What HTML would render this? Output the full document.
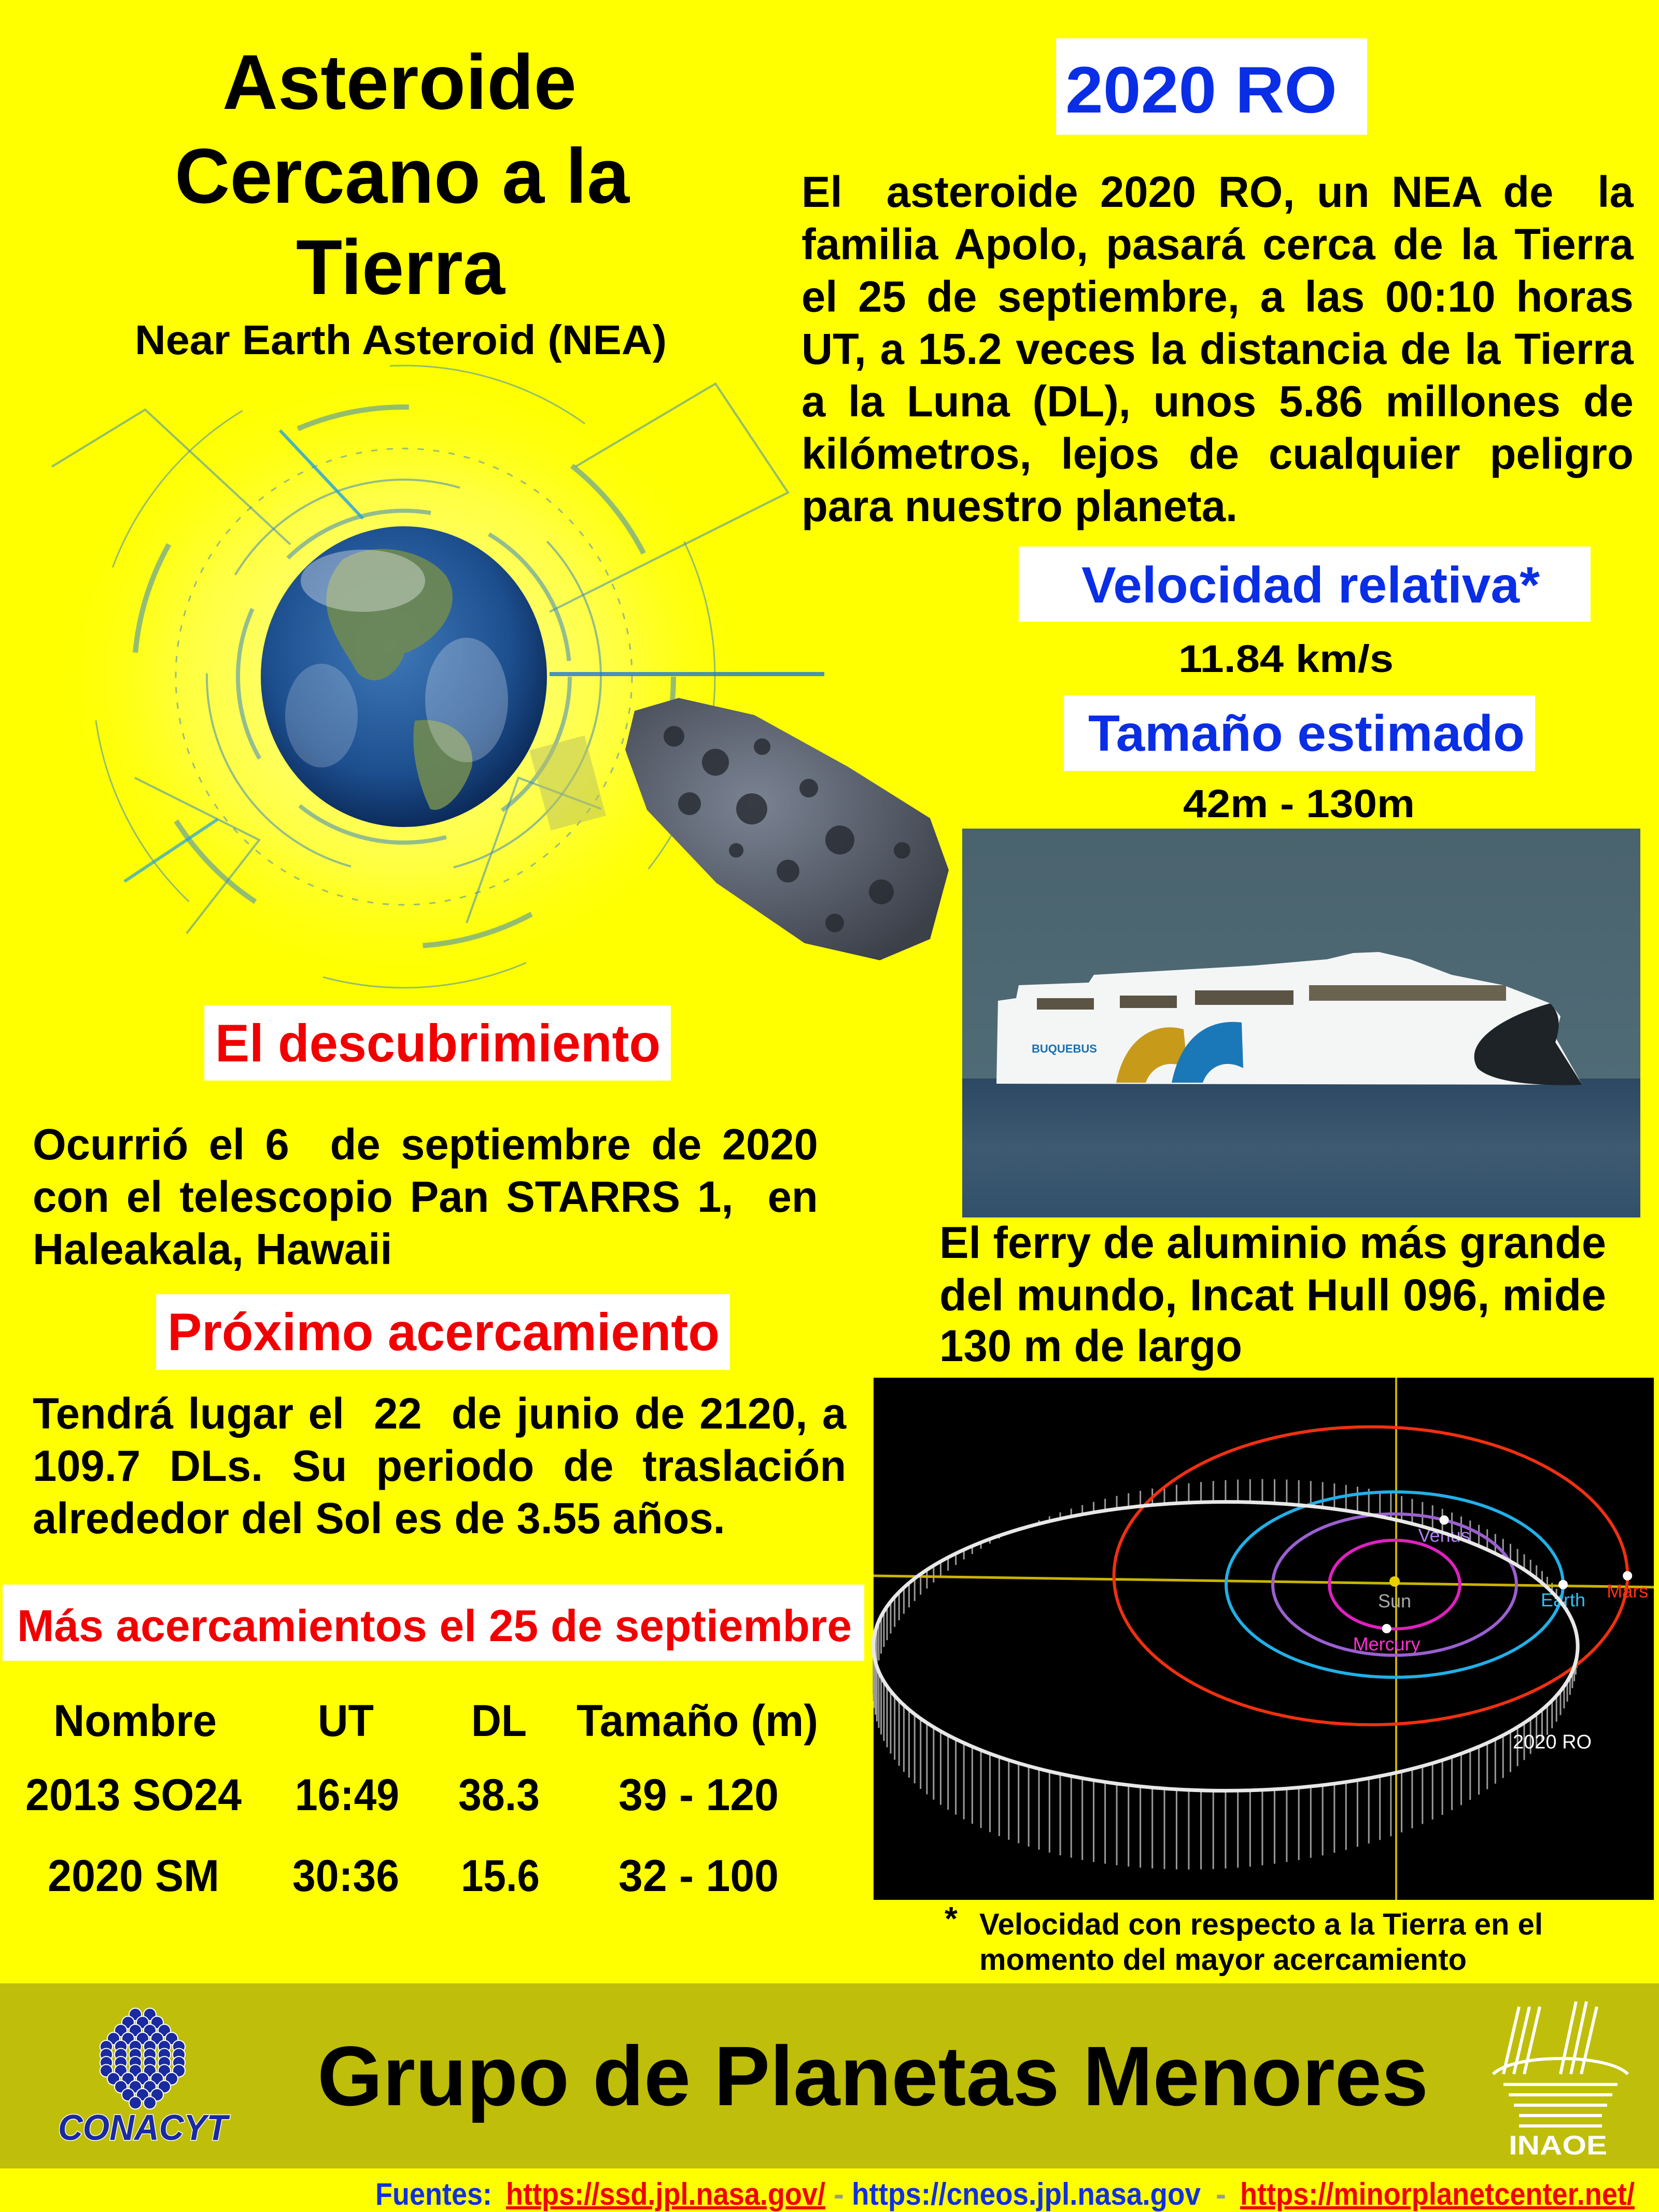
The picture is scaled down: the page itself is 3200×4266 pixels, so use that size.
<!DOCTYPE html>
<html><head><meta charset="utf-8"><title>Asteroide 2020 RO</title>
<style>
html,body{margin:0;padding:0;background:#ffff00;}
#page{position:relative;width:3200px;height:4266px;overflow:hidden;background:#ffff00;font-family:"Liberation Sans",Arial,sans-serif;font-weight:bold;}
svg{position:absolute;left:0;top:0;}
.para{position:absolute;font-size:84px;line-height:101px;color:#000;transform-origin:0 0;transform:scaleX(0.99);}
.para div{height:101px;white-space:nowrap;text-align:justify;text-align-last:justify;}
.para div.last{text-align-last:left;}
</style></head>
<body>
<div id="page">
<svg id="art" width="3200" height="4266" viewBox="0 0 3200 4266">
  <defs>
    <radialGradient id="glow" cx="50%" cy="50%" r="50%">
      <stop offset="0" stop-color="#ffffc8" stop-opacity="0.9"/>
      <stop offset="0.6" stop-color="#ffff80" stop-opacity="0.5"/>
      <stop offset="1" stop-color="#ffff00" stop-opacity="0"/>
    </radialGradient>
    <radialGradient id="earthG" cx="45%" cy="40%" r="60%">
      <stop offset="0" stop-color="#3f79b8"/>
      <stop offset="0.7" stop-color="#1d4f8f"/>
      <stop offset="1" stop-color="#0c2c5c"/>
    </radialGradient>
    <radialGradient id="rockG" cx="40%" cy="40%" r="70%">
      <stop offset="0" stop-color="#7b8393"/>
      <stop offset="1" stop-color="#3b4049"/>
    </radialGradient>
    <linearGradient id="skyG" x1="0" y1="0" x2="0" y2="1">
      <stop offset="0" stop-color="#4a636e"/>
      <stop offset="1" stop-color="#4f6b76"/>
    </linearGradient>
    <linearGradient id="seaG" x1="0" y1="0" x2="0" y2="1">
      <stop offset="0" stop-color="#2c4862"/>
      <stop offset="0.5" stop-color="#3e5a72"/>
      <stop offset="1" stop-color="#33506a"/>
    </linearGradient>
  </defs>

  <g>
    <ellipse cx="779" cy="1305" rx="700" ry="620" fill="url(#glow)"/>
    <g fill="none" stroke="#3c86c0" stroke-opacity="0.55">
      <circle cx="779" cy="1305" r="320" stroke-width="8" stroke-dasharray="300 120"/>
      <circle cx="779" cy="1305" r="380" stroke-width="4" stroke-dasharray="500 200"/>
      <circle cx="779" cy="1305" r="440" stroke-width="3" stroke-dasharray="12 18"/>
      <circle cx="779" cy="1305" r="520" stroke-width="10" stroke-dasharray="220 340"/>
      <circle cx="779" cy="1305" r="600" stroke-width="3" stroke-dasharray="400 300"/>
      <path d="M100 900 L280 790 L560 1050" stroke-width="4"/>
      <path d="M1110 900 L1380 740 L1520 950 L1060 1180" stroke-width="4"/>
      <path d="M1060 1300 L1590 1300" stroke="#1e78d0" stroke-width="8" stroke-opacity="0.8"/>
      <path d="M260 1500 L500 1620 L360 1800" stroke-width="4"/>
      <path d="M900 1780 L1000 1500 L1160 1560" stroke-width="4"/>
      <path d="M540 830 L700 1000" stroke="#20a0e0" stroke-width="6" stroke-opacity="0.8"/>
      <path d="M240 1700 L420 1580" stroke="#20a0e0" stroke-width="6" stroke-opacity="0.7"/>
    </g>
    <rect x="1040" y="1430" width="110" height="160" fill="#b8c060" fill-opacity="0.5" transform="rotate(-15 1095 1510)"/>
    <ellipse cx="779" cy="1305" rx="276" ry="290" fill="url(#earthG)"/>
    <path d="M660 1080 C720 1040 820 1060 860 1110 C900 1170 840 1240 780 1260 C760 1320 700 1330 680 1280 C640 1220 600 1150 660 1080 Z" fill="#6f8a52" opacity="0.9"/>
    <path d="M800 1390 C860 1380 920 1420 910 1480 C890 1540 850 1570 830 1560 C810 1520 790 1450 800 1390 Z" fill="#6f8a52" opacity="0.9"/>
    <ellipse cx="700" cy="1120" rx="120" ry="60" fill="#fff" opacity="0.35"/>
    <ellipse cx="900" cy="1350" rx="80" ry="120" fill="#fff" opacity="0.25"/>
    <ellipse cx="620" cy="1380" rx="70" ry="100" fill="#fff" opacity="0.2"/>
  </g>

  <g>
    <path d="M1224 1371 L1309 1346 L1455 1379 L1636 1479 L1794 1578 L1830 1678 L1794 1811 L1697 1852 L1552 1819 L1382 1703 L1248 1562 L1206 1446 Z" fill="url(#rockG)"/>
    <g fill="#262a31" opacity="0.8">
      <circle cx="1300" cy="1420" r="20"/><circle cx="1380" cy="1470" r="26"/><circle cx="1470" cy="1440" r="16"/>
      <circle cx="1330" cy="1550" r="22"/><circle cx="1450" cy="1560" r="30"/><circle cx="1560" cy="1520" r="18"/>
      <circle cx="1620" cy="1620" r="28"/><circle cx="1520" cy="1680" r="22"/><circle cx="1700" cy="1720" r="24"/>
      <circle cx="1610" cy="1780" r="18"/><circle cx="1420" cy="1640" r="14"/><circle cx="1740" cy="1640" r="16"/>
    </g>
  </g>

  <g>
    <rect x="1856" y="1598" width="1308" height="482" fill="url(#skyG)"/>
    <rect x="1856" y="2080" width="1308" height="268" fill="url(#seaG)"/>
    <path d="M1922 2090 L1925 1930 L1960 1925 L1965 1900 L2100 1895 L2110 1880 L2420 1862 L2560 1850 L2610 1838 L2660 1836 L2720 1850 L2800 1880 L2900 1900 L2990 1935 L3010 1960 L3000 2000 L3052 2092 Z" fill="#f4f6f6"/>
    <path d="M2990 1935 C2900 1960 2820 2010 2850 2060 C2880 2090 2980 2095 3052 2092 L3000 2010 C3010 1980 3010 1955 2990 1935 Z" fill="#1d2327"/>
    <rect x="2000" y="1925" width="110" height="22" fill="#5b5344"/>
    <rect x="2160" y="1920" width="110" height="24" fill="#5b5344"/>
    <rect x="2305" y="1910" width="190" height="28" fill="#5b5344"/>
    <rect x="2525" y="1900" width="380" height="30" fill="#6a6350"/>
    <path d="M2153 2088 C2170 2000 2230 1970 2283 1985 L2290 2060 C2250 2040 2220 2060 2210 2088 Z" fill="#c89a1a"/>
    <path d="M2260 2088 C2280 1990 2340 1965 2395 1972 L2398 2060 C2360 2040 2330 2060 2320 2088 Z" fill="#1a78b8"/>
    <text x="1990" y="2030" font-size="22" fill="#1a6fb0">BUQUEBUS</text>
  </g>

  <g id="orbit">
    <rect x="1685" y="2657" width="1505" height="1007" fill="#000"/>
  </g>

  <rect x="0" y="3825" width="3200" height="357" fill="#bfbe0a"/>
  <g id="conacyt"></g>
  <text x="112" y="4127" font-size="70" font-style="italic" fill="#1a2aa0" stroke="#fff" stroke-width="3" paint-order="stroke" textLength="327" lengthAdjust="spacingAndGlyphs">CONACYT</text>
  <g fill="none" stroke="#fff" stroke-width="6">
    <path d="M2930 3870 L2900 4000 M2950 3870 L2920 4000 M2970 3870 L2940 4000 M3040 3860 L3010 4000 M3060 3860 L3030 4000 M3080 3870 L3050 4000"/>
    <path d="M2880 4000 C2920 3960 3100 3960 3140 4000 M2900 4020 L3120 4020 M2910 4040 L3110 4040 M2920 4060 L3100 4060 M2930 4080 L3090 4080 M2930 4100 L3090 4100"/>
  </g>
  <text x="2910" y="4155" font-size="52" fill="#fff" textLength="190" lengthAdjust="spacingAndGlyphs">INAOE</text>
</svg>

<svg width="3200" height="4266" viewBox="0 0 3200 4266" style="font-family:'Liberation Sans',Arial,sans-serif;font-weight:bold">
  <g font-size="150" fill="#000">
    <text x="429" y="210" textLength="683" lengthAdjust="spacingAndGlyphs">Asteroide</text>
    <text x="337" y="391" textLength="877" lengthAdjust="spacingAndGlyphs">Cercano a la</text>
    <text x="571" y="567" textLength="403" lengthAdjust="spacingAndGlyphs">Tierra</text>
  </g>
  <text x="260" y="683" font-size="80" textLength="1026" lengthAdjust="spacingAndGlyphs">Near Earth Asteroid (NEA)</text>

  <rect x="2037" y="74" width="600" height="186" fill="#fff"/>
  <text x="2055" y="217" font-size="127" fill="#0a2ee6" textLength="524" lengthAdjust="spacingAndGlyphs">2020 RO</text>

  <rect x="1965" y="1054" width="1103" height="145" fill="#fff"/>
  <text x="2086" y="1162" font-size="98" fill="#0a2ee6" textLength="884" lengthAdjust="spacingAndGlyphs">Velocidad relativa*</text>
  <text x="2273" y="1296" font-size="74" textLength="415" lengthAdjust="spacingAndGlyphs">11.84 km/s</text>

  <rect x="2052" y="1341" width="909" height="146" fill="#fff"/>
  <text x="2099" y="1448" font-size="98" fill="#0a2ee6" textLength="842" lengthAdjust="spacingAndGlyphs">Tamaño estimado</text>
  <text x="2282" y="1576" font-size="76" textLength="447" lengthAdjust="spacingAndGlyphs">42m - 130m</text>

  <g font-size="86">
    <text x="1812" y="2426" textLength="1286" lengthAdjust="spacingAndGlyphs">El ferry de aluminio más grande</text>
    <text x="1812" y="2527" textLength="1286" lengthAdjust="spacingAndGlyphs">del mundo, Incat Hull 096, mide</text>
    <text x="1812" y="2625" textLength="584" lengthAdjust="spacingAndGlyphs">130 m de largo</text>
  </g>

  <rect x="394" y="1939" width="900" height="145" fill="#fff"/>
  <text x="415" y="2047" font-size="102" fill="#f00000" textLength="859" lengthAdjust="spacingAndGlyphs">El descubrimiento</text>

  <rect x="301" y="2496" width="1107" height="146" fill="#fff"/>
  <text x="323" y="2604" font-size="102" fill="#f00000" textLength="1065" lengthAdjust="spacingAndGlyphs">Próximo acercamiento</text>

  <rect x="5" y="3056" width="1662" height="147" fill="#fff"/>
  <text x="33" y="3165" font-size="86" fill="#f00000" textLength="1610" lengthAdjust="spacingAndGlyphs">Más acercamientos el 25 de septiembre</text>

  <g font-size="86">
    <text x="103" y="3348" textLength="315" lengthAdjust="spacingAndGlyphs">Nombre</text>
    <text x="613" y="3348" textLength="108" lengthAdjust="spacingAndGlyphs">UT</text>
    <text x="909" y="3348" textLength="107" lengthAdjust="spacingAndGlyphs">DL</text>
    <text x="1112" y="3348" textLength="466" lengthAdjust="spacingAndGlyphs">Tamaño (m)</text>
    <text x="49" y="3491" textLength="417" lengthAdjust="spacingAndGlyphs">2013 SO24</text>
    <text x="569" y="3491" textLength="201" lengthAdjust="spacingAndGlyphs">16:49</text>
    <text x="884" y="3491" textLength="157" lengthAdjust="spacingAndGlyphs">38.3</text>
    <text x="1193" y="3491" textLength="309" lengthAdjust="spacingAndGlyphs">39 - 120</text>
    <text x="92" y="3647" textLength="331" lengthAdjust="spacingAndGlyphs">2020 SM</text>
    <text x="564" y="3647" textLength="206" lengthAdjust="spacingAndGlyphs">30:36</text>
    <text x="889" y="3647" textLength="152" lengthAdjust="spacingAndGlyphs">15.6</text>
    <text x="1193" y="3647" textLength="309" lengthAdjust="spacingAndGlyphs">32 - 100</text>
  </g>

  <g font-size="58">
    <text x="1822" y="3722" font-size="64">*</text>
    <text x="1889" y="3731" textLength="1087" lengthAdjust="spacingAndGlyphs">Velocidad con respecto a la Tierra en el</text>
    <text x="1889" y="3799" textLength="940" lengthAdjust="spacingAndGlyphs">momento del mayor acercamiento</text>
  </g>

  <text x="612" y="4060" font-size="163" textLength="2143" lengthAdjust="spacingAndGlyphs">Grupo de Planetas Menores</text>

  <g font-size="60">
    <text x="724" y="4252" fill="#1030e0" textLength="225" lengthAdjust="spacingAndGlyphs">Fuentes:</text>
    <text x="976" y="4252" fill="#f00000" text-decoration="underline" textLength="616" lengthAdjust="spacingAndGlyphs">https://ssd.jpl.nasa.gov/</text>
    <text x="1608" y="4252" fill="#999">-</text>
    <text x="1643" y="4252" fill="#1030e0" textLength="673" lengthAdjust="spacingAndGlyphs">https://cneos.jpl.nasa.gov</text>
    <text x="2345" y="4252" fill="#999">-</text>
    <text x="2392" y="4252" fill="#f00000" text-decoration="underline" textLength="761" lengthAdjust="spacingAndGlyphs">https://minorplanetcenter.net/</text>
  </g>
</svg>

<div class="para" style="left:1546px;top:320px;width:1621px;">
  <div>El &nbsp;asteroide 2020 RO, un NEA de &nbsp;la</div>
  <div>familia Apolo, pasará cerca de la Tierra</div>
  <div>el 25 de septiembre, a las 00:10 horas</div>
  <div>UT, a 15.2 veces la distancia de la Tierra</div>
  <div>a la Luna (DL), unos 5.86 millones de</div>
  <div>kilómetros, lejos de cualquier peligro</div>
  <div class="last">para nuestro planeta.</div>
</div>
<div class="para" style="left:63px;top:2157px;width:1530px;">
  <div>Ocurrió el 6 &nbsp;de septiembre de 2020</div>
  <div>con el telescopio Pan STARRS 1, &nbsp;en</div>
  <div class="last">Haleakala, Hawaii</div>
</div>
<div class="para" style="left:63px;top:2676px;width:1585px;">
  <div>Tendrá lugar el &nbsp;22 &nbsp;de junio de 2120, a</div>
  <div>109.7 DLs. Su periodo de traslación</div>
  <div class="last">alrededor del Sol es de 3.55 años.</div>
</div>
</div>

<script>
// Orbit data (semi-major axis in AU, eccentricity, projected flattening, planet phase in degrees)
const orbitNames = ['Mercury', 'Venus', 'Earth', 'Mars', '2020 RO'];
const orbitA = [0.387, 0.723, 1.0, 1.524, 2.09];
const orbitE = [0.0, 0.0, 0.0, 0.093, 0.48];
const orbitFlat = [0.68, 0.58, 0.55, 0.58, 0.41];
const planetPhase = [-97, 66, 0, 0, null];
const orbitColors = ['#e020c0', '#9a60d0', '#20b0e8', '#f03010', '#e8e8e8'];
const labelColors = ['#ff30d0', '#b080f0', '#30c0f0', '#ff3010', '#ffffff'];

(function () {
  const NS = 'http://www.w3.org/2000/svg';
  const g = document.getElementById('orbit');
  const sunX = 2690, sunY = 3050, scale = 325;
  const sx = a => a * scale;
  function mk(tag, attrs) { const el = document.createElementNS(NS, tag); for (const k in attrs) el.setAttribute(k, attrs[k]); return el; }

  const i = 4;
  const rx4 = sx(orbitA[i]), ry4 = rx4 * orbitFlat[i], cx4 = sunX - orbitA[i] * orbitE[i] * scale, cy4 = sunY + 125;
  for (let d = 0; d < 360; d += 2) {
    const t = d * Math.PI / 180;
    const px = cx4 + rx4 * Math.cos(t), py = cy4 - ry4 * Math.sin(t);
    const L = -54 + 96 * Math.sin(t) + 39 * Math.cos(t);
    const ln = mk('line', { x1: px, y1: py, x2: px, y2: py - L, stroke: '#9a9a9a', 'stroke-width': 3 });
    
    
    g.appendChild(ln);
  }

  const v = mk('line', { x1: 2693, y1: 2657, x2: 2693, y2: 3664, stroke: '#c8b400', 'stroke-width': 4 });
  
  
  g.appendChild(v);
  const h = mk('line', { x1: 1685, y1: 3039, x2: 3190, y2: 3061, stroke: '#c8b400', 'stroke-width': 5 });
  
  
  g.appendChild(h);

  for (let k = 0; k < orbitNames.length; k++) {
    const rx = sx(orbitA[k]), ry = rx * orbitFlat[k];
    const cx = sunX - orbitA[k] * orbitE[k] * scale;
    const cy = k === 4 ? sunY + 125 : sunY + (k === 3 ? -11 : 6);
    const e = mk('ellipse', { cx: cx, cy: cy, rx: rx, ry: ry, fill: 'none', stroke: orbitColors[k], 'stroke-width': k === 4 ? 7 : 6 });
    
    
    g.appendChild(e);
    if (planetPhase[k] !== null) {
      const t = planetPhase[k] * Math.PI / 180;
      const px = cx + rx * Math.cos(t), py = cy - ry * Math.sin(t);
      const c = mk('circle', { cx: px, cy: py, r: 9, fill: '#fff' });
      
      
      g.appendChild(c);
      const tx = mk('text', { x: px, y: py + 42, 'font-size': 36, 'font-weight': 'normal', 'text-anchor': 'middle', fill: labelColors[k], 'font-family': 'Liberation Sans, sans-serif' });
      tx.textContent = orbitNames[k];
      
      
      g.appendChild(tx);
    } else {
      const tx = mk('text', { x: 2918, y: 3372, 'font-size': 38, 'font-weight': 'normal', fill: '#fff', 'font-family': 'Liberation Sans, sans-serif' });
      tx.textContent = orbitNames[k];
      
      
      g.appendChild(tx);
    }
  }
  const sun = mk('circle', { cx: sunX, cy: sunY, r: 10, fill: '#e8d000' });
  
  
  g.appendChild(sun);
  const st = mk('text', { x: sunX, y: sunY + 50, 'font-size': 36, 'font-weight': 'normal', 'text-anchor': 'middle', fill: '#aaaaaa', 'font-family': 'Liberation Sans, sans-serif' });
  st.textContent = 'Sun';
  
  
  g.appendChild(st);

  const cg = document.getElementById('conacyt');
  const rows = [2, 3, 4, 5, 6, 6, 6, 6, 5, 4, 3, 2];
  for (let r = 0; r < rows.length; r++) {
    for (let c = 0; c < rows[r]; c++) {
      const x = 275 + (c - (rows[r] - 1) / 2) * 28;
      const y = 3885 + r * 15.5;
      const d = mk('circle', { cx: x, cy: y, r: 12, fill: '#1a2aa0', stroke: '#fff', 'stroke-width': 2 });
      
      
      cg.appendChild(d);
    }
  }
})();
</script>
</body></html>
